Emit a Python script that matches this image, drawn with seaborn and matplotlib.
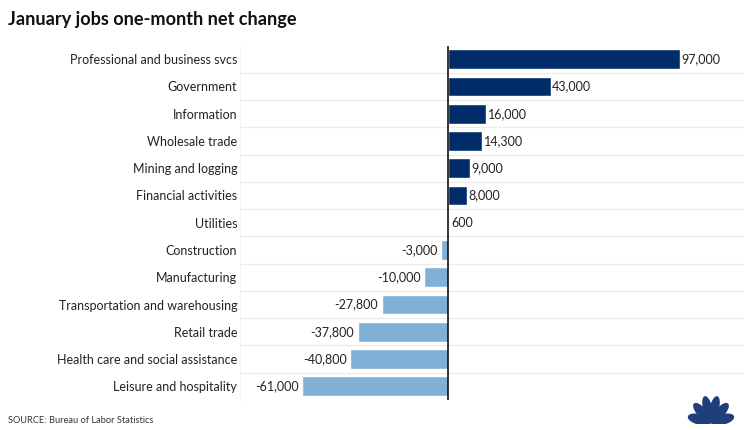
import matplotlib
matplotlib.use("Agg")
import matplotlib.pyplot as plt
import seaborn as sns
import pandas as pd
import numpy as np
from matplotlib.patches import Ellipse

sectors = ["Professional and business svcs", "Government", "Information",
           "Wholesale trade", "Mining and logging", "Financial activities",
           "Utilities", "Construction", "Manufacturing",
           "Transportation and warehousing", "Retail trade",
           "Health care and social assistance", "Leisure and hospitality"]
changes = [97000, 43000, 16000, 14300, 9000, 8000, 600,
           -3000, -10000, -27800, -37800, -40800, -61000]

df = pd.DataFrame({"sector": sectors, "change": changes})
navy = "#002d6a"
light = "#7fb0d6"
colors = [navy if v > 0 else light for v in changes]

sns.set_style("white")
plt.rcParams["font.family"] = ["Lato", "DejaVu Sans"]

fig = plt.figure(figsize=(7.5, 4.3), dpi=100)
ax = fig.add_axes([0.32, 0.07, 0.672, 0.824])

sns.barplot(data=df, y="sector", x="change", hue="sector", palette=colors,
            legend=False, width=0.73, saturation=1, ax=ax, orient="h")

ax.set_xlim(-87000, 123800)
ax.set_ylim(len(sectors) - 0.5, -0.5)

# faint row separators
for i in range(len(sectors) - 1):
    ax.axhline(i + 0.5, color="#ececec", lw=0.9, zorder=0)
ax.axvline(0, color="black", lw=1.1, zorder=3)

# value labels
for i, v in enumerate(changes):
    txt = f"{v:,}"
    if v >= 0:
        ax.text(v + 600, i, txt, va="center", ha="left", fontsize=9, color="#222222")
    else:
        ax.text(v - 1500, i, txt, va="center", ha="right", fontsize=9, color="#222222")

ax.set_xlabel("")
ax.set_ylabel("")
ax.set_xticks([])
ax.tick_params(axis="y", length=0, labelsize=9, labelcolor="#222222", pad=2)
for s in ["top", "right", "bottom"]:
    ax.spines[s].set_visible(False)
ax.spines["left"].set_color("#f2f2f2")

fig.text(0.011, 0.955, "January jobs one-month net change", fontsize=13.1,
         fontweight="bold", color="#111111", va="center")
fig.text(0.011, 0.023, "SOURCE: Bureau of Labor Statistics", fontsize=6.7,
         color="#333333", va="center")

# simple peacock mark
lax = fig.add_axes([0.915, 0.015, 0.066, 0.075])
lax.set_xlim(-1.1, 1.1)
lax.set_ylim(-0.05, 1.2)
lax.axis("off")
for ang in np.linspace(12, 168, 6):
    r = np.radians(ang)
    e = Ellipse((0.52 * np.cos(r), 0.52 * np.sin(r)), 1.0, 0.36, angle=ang,
                color="#1f3f7a")
    lax.add_patch(e)

fig.savefig("out.png", dpi=100)
